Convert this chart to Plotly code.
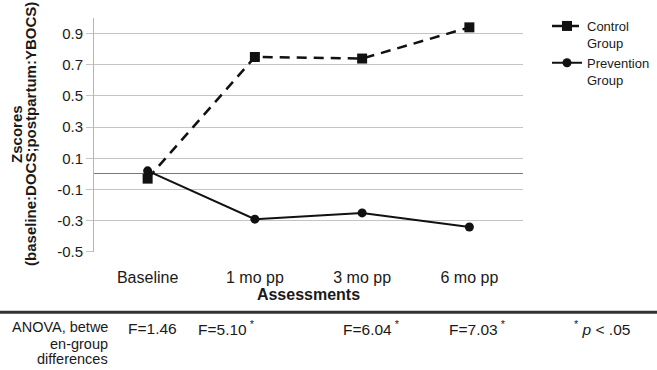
import plotly.graph_objects as go

# ---- data ----
assessments = ["Baseline", "1 mo pp", "3 mo pp", "6 mo pp"]
control_z = [-0.03, 0.75, 0.74, 0.94]
prevention_z = [0.02, -0.29, -0.25, -0.34]
y_ticks = [-0.5, -0.3, -0.1, 0.1, 0.3, 0.5, 0.7, 0.9]
y_tick_labels = ["-0.5", "-0.3", "-0.1", "0.1", "0.3", "0.5", "0.7", "0.9"]
anova_labels = ["F=1.46", "F=5.10<sup> *</sup>", "F=6.04<sup> *</sup>", "F=7.03<sup> *</sup>"]
anova_row_title = ["ANOVA, betwe", "en-group", "differences"]
p_note = "<sup>*</sup> <i>p</i> < .05"

# ---- layout geometry (pixels) ----
W, H = 657, 370
L, R, T, B = 94, 523, 17.6, 252.5
PW, PH = R - L, B - T


def px(x):
    return (x - L) / PW


def py(y):
    return (B - y) / PH


FONT = "Liberation Sans, Arial, sans-serif"
TXT = "#1a1a1a"

fig = go.Figure()
fig.add_trace(go.Scatter(
    x=assessments, y=control_z, name="Control<br>Group", mode="lines+markers",
    line=dict(color="#111111", width=2.5, dash="10px,7px"),
    marker=dict(symbol="square", size=10, color="#111111"),
))
fig.add_trace(go.Scatter(
    x=assessments, y=prevention_z, name="Prevention<br>Group", mode="lines+markers",
    line=dict(color="#111111", width=2),
    marker=dict(symbol="circle", size=9, color="#111111"),
))

annotations = []
# y-axis titles (two lines, rotated)
annotations.append(dict(text="<b>Zscores</b>", xref="paper", yref="paper",
                        x=px(17), y=py(134), textangle=-90, showarrow=False,
                        xanchor="center", yanchor="middle",
                        font=dict(family=FONT, size=15, color=TXT)))
annotations.append(dict(text="<b>(baseline:DOCS;postpartum:YBOCS)</b>", xref="paper", yref="paper",
                        x=px(31), y=py(134), textangle=-90, showarrow=False,
                        xanchor="center", yanchor="middle",
                        font=dict(family=FONT, size=15, color=TXT)))
# table row title (three right-aligned lines)
for line_text, yc in zip(anova_row_title, [328, 344.5, 360]):
    annotations.append(dict(text=line_text, xref="paper", yref="paper",
                            x=px(110), y=py(yc), showarrow=False, align="right",
                            xanchor="right", yanchor="middle",
                            font=dict(family=FONT, size=14.5, color=TXT)))
anova_left = [126, 196, 341, 447]
for lab, xl in zip(anova_labels, anova_left):
    annotations.append(dict(text=lab, xref="paper", yref="paper",
                            x=px(xl), y=py(329), showarrow=False,
                            xanchor="left", yanchor="middle",
                            font=dict(family=FONT, size=15.5, color=TXT)))
annotations.append(dict(text=p_note, xref="paper", yref="paper",
                        x=px(572), y=py(329), showarrow=False,
                        xanchor="left", yanchor="middle",
                        font=dict(family=FONT, size=15.5, color=TXT)))

shapes = [dict(type="line", xref="paper", yref="paper",
               x0=px(0), x1=px(W), y0=py(313), y1=py(313),
               line=dict(color="#333333", width=3))]

fig.update_layout(
    width=W, height=H,
    margin=dict(l=L, r=W - R, t=T, b=H - B, autoexpand=False),
    paper_bgcolor="white", plot_bgcolor="white",
    font=dict(family=FONT, size=15, color=TXT),
    showlegend=True,
    legend=dict(x=547 / W, y=1 - 11 / H, xref="container", yref="container",
                xanchor="left", yanchor="top",
                valign="top", font=dict(family=FONT, size=13, color=TXT),
                tracegroupgap=9, itemwidth=30, bgcolor="rgba(0,0,0,0)"),
    annotations=annotations,
    shapes=shapes,
)
fig.update_xaxes(
    type="category", range=[-0.5, 3.5], showgrid=False, showline=False,
    ticks="", tickfont=dict(size=16), ticklabelstandoff=14, automargin=False,
    title=dict(text="<b>Assessments</b>", font=dict(size=16), standoff=0),
    zeroline=False,
)
fig.update_yaxes(
    range=[-0.5005, 1.0], tickvals=y_ticks, ticktext=y_tick_labels,
    showgrid=True, gridcolor="#c4c4c4", gridwidth=1,
    zeroline=True, zerolinecolor="#7a7a7a", zerolinewidth=1.2,
    showline=True, linecolor="#b5b5b5", linewidth=1,
    ticks="outside", ticklen=7, tickcolor="#c4c4c4",
    tickfont=dict(size=15), automargin=False,
)

fig.write_html("out.html", config={"displayModeBar": False},
               post_script="document.body.style.margin='0';")
